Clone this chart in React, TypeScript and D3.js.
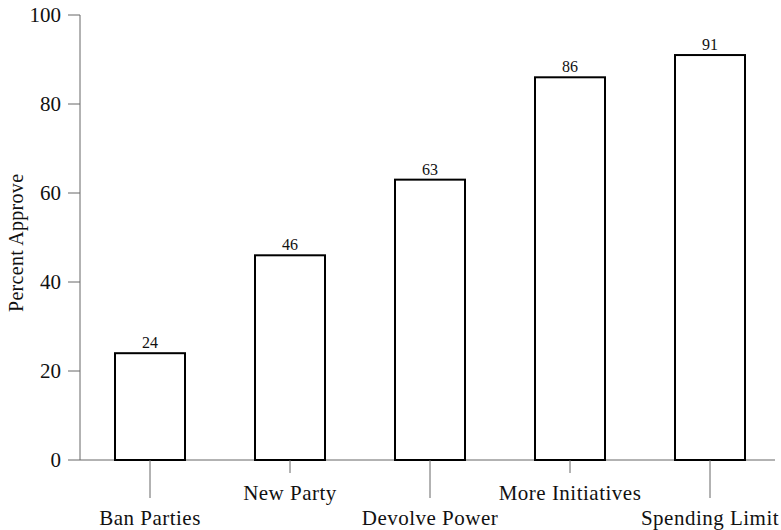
import React from "react";
import * as d3 from "d3";

const categories = ["Ban Parties", "New Party", "Devolve Power", "More Initiatives", "Spending Limit"];
const values = [24, 46, 63, 86, 91];
const yTicks = [0, 20, 40, 60, 80, 100];

export default function App() {
  const W = 781, H = 530;
  const x = d3.scaleBand<string>().domain(categories).range([80, 780]).paddingInner(0.5).paddingOuter(0.25);
  const y = d3.scaleLinear().domain([0, 100]).range([460, 15]);
  const font = "'Liberation Serif', 'DejaVu Serif', serif";
  const axisColor = "#666";
  return (
    <svg width={W} height={H} style={{ position: "absolute", left: 0, top: 0, background: "#fff" }} fontFamily={font}>
      <line x1={80} x2={80} y1={y(100)} y2={y(0)} stroke={axisColor} strokeWidth={1} />
      <line x1={80} x2={775} y1={y(0)} y2={y(0)} stroke={axisColor} strokeWidth={1} />
      {yTicks.map((t) => (
        <g key={t}>
          <line x1={68} x2={80} y1={y(t)} y2={y(t)} stroke={axisColor} strokeWidth={1} />
          <text x={61} y={y(t)} dy="0.35em" textAnchor="end" fontSize={21} fill="#111">{t}</text>
        </g>
      ))}
      <text transform={`translate(23,312) rotate(-90)`} textAnchor="start" fontSize={20} letterSpacing={0.3} fill="#111">Percent Approve</text>
      {categories.map((c, i) => {
        const cx = (x(c) as number) + x.bandwidth() / 2;
        const low = i % 2 === 0;
        return (
          <g key={c}>
            <rect x={x(c)} y={y(values[i])} width={x.bandwidth()} height={y(0) - y(values[i])} fill="#fff" stroke="#000" strokeWidth={2} />
            <text x={cx} y={y(values[i]) - 5} textAnchor="middle" fontSize={16} fill="#111">{values[i]}</text>
            <line x1={cx} x2={cx} y1={y(0)} y2={low ? 498 : 473} stroke={axisColor} strokeWidth={1} />
            <text x={cx} y={low ? 525 : 500} textAnchor="middle" fontSize={21} letterSpacing={0.5} fill="#111">{c}</text>
          </g>
        );
      })}
    </svg>
  );
}
